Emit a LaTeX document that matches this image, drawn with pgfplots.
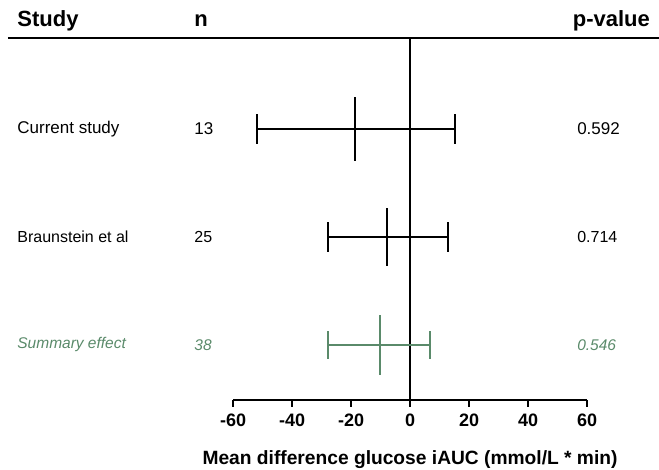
\documentclass[border=0pt]{standalone}
\usepackage{pgfplots}
\pgfplotsset{compat=1.18}
\usepackage{fontspec}
\setmainfont{Liberation Sans}
\definecolor{sumgreen}{RGB}{90,138,106}
\begin{document}
\begin{tikzpicture}
\begin{axis}[
  scale only axis, width=354pt, height=362pt,
  xmin=-60, xmax=60, ymin=70, ymax=432,
  clip=false,
  axis x line=bottom, axis y line=none,
  axis line style={line width=1.6pt, -},
  xtick={-60,-40,...,60},
  major tick length=7pt,
  tick style={line width=1.6pt, black},
  xtick pos=bottom, tick align=outside,
  /pgf/number format/assume math mode=true,
  tick label style={font=\bfseries\fontsize{18}{18}\selectfont},
  xticklabel style={yshift=-3pt},
  xlabel={Mean difference glucose iAUC (mmol/L * min)},
  xlabel style={font=\bfseries\fontsize{19.2}{19.2}\selectfont, yshift=-17pt},
]
% zero line
\addplot[black, line width=1.6pt] coordinates {(0,70) (0,432)};
% top rule
\draw[black, line width=1.6pt] (axis cs:-136.3,432) -- (axis cs:84.4,432);
% Current study
\addplot[black, line width=1.6pt, unbounded coords=jump] coordinates {
 (-51.9,341) (15.3,341) (nan,nan)
 (-51.9,326) (-51.9,356) (nan,nan)
 (15.3,326) (15.3,356) (nan,nan)
 (-18.6,309) (-18.6,373)};
% Braunstein et al
\addplot[black, line width=1.6pt, unbounded coords=jump] coordinates {
 (-27.8,233) (12.9,233) (nan,nan)
 (-27.8,218) (-27.8,248) (nan,nan)
 (12.9,218) (12.9,248) (nan,nan)
 (-7.8,204) (-7.8,262)};
% Summary effect
\addplot[sumgreen, line width=1.6pt, unbounded coords=jump] coordinates {
 (-27.8,125) (6.8,125) (nan,nan)
 (-27.8,111) (-27.8,139) (nan,nan)
 (6.8,111) (6.8,139) (nan,nan)
 (-10.2,95) (-10.2,155)};
% header
\node[anchor=west, font=\bfseries\fontsize{22}{22}\selectfont] at (axis cs:-134.3,449) {Study};
\node[anchor=west, font=\bfseries\fontsize{22}{22}\selectfont] at (axis cs:-74.3,449) {n};
\node[anchor=east, font=\bfseries\fontsize{22}{22}\selectfont] at (axis cs:82.5,449) {p-value};
% rows
\node[anchor=west, font=\fontsize{17}{17}\selectfont] at (axis cs:-134.3,341) {Current study};
\node[anchor=west, font=\fontsize{17}{17}\selectfont] at (axis cs:-74.3,341) {13};
\node[anchor=west, font=\fontsize{17}{17}\selectfont] at (axis cs:55.5,341) {0.592};
\node[anchor=west, font=\fontsize{16}{16}\selectfont] at (axis cs:-134.3,233) {Braunstein et al};
\node[anchor=west, font=\fontsize{16}{16}\selectfont] at (axis cs:-74.3,233) {25};
\node[anchor=west, font=\fontsize{16}{16}\selectfont] at (axis cs:55.5,233) {0.714};
\node[anchor=west, text=sumgreen, font=\itshape\fontsize{15.5}{15.5}\selectfont] at (axis cs:-134.3,125) {Summary effect};
\node[anchor=west, text=sumgreen, font=\itshape\fontsize{15.5}{15.5}\selectfont] at (axis cs:-74.3,125) {38};
\node[anchor=west, text=sumgreen, font=\itshape\fontsize{15.5}{15.5}\selectfont] at (axis cs:55.5,125) {0.546};
\coordinate (BL) at (axis cs:-139,0);
\coordinate (TR) at (axis cs:84.4,470);
\end{axis}
\pgfresetboundingbox
\path (BL) rectangle (TR);
\end{tikzpicture}
\end{document}
